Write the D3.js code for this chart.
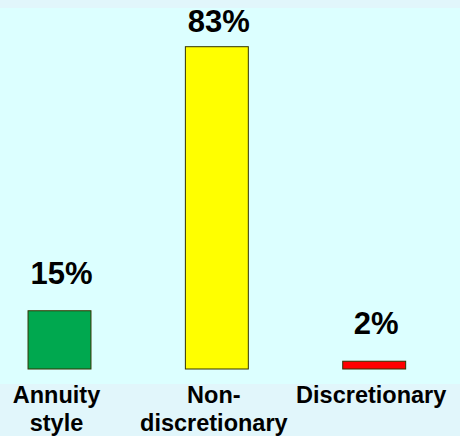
<!DOCTYPE html>
<html><head><meta charset="utf-8">
<script src="https://cdn.jsdelivr.net/npm/d3@7/dist/d3.min.js"></script>
<style>html,body{margin:0;padding:0;background:#dcffff;}svg{display:block;}</style>
</head><body><div id="chart"></div>
<script>
const categories = ["Annuity style", "Non-discretionary", "Discretionary"];
const labelLines = [["Annuity", "style"], ["Non-", "discretionary"], ["Discretionary"]];
const values = [15, 83, 2];
const valueLabels = ["15%", "83%", "2%"];
const colors = ["#00a84f", "#ffff00", "#ff0000"];

const W = 460, H = 436;
const svg = d3.select("#chart").append("svg").attr("width", W).attr("height", H);

// backgrounds
svg.append("rect").attr("x", 0).attr("y", 0).attr("width", W).attr("height", H).attr("fill", "#dcffff");
svg.append("rect").attr("x", 0).attr("y", 0).attr("width", W).attr("height", 8).attr("fill", "#e1f6fb");
svg.append("rect").attr("x", 0).attr("y", 384).attr("width", W).attr("height", H - 384).attr("fill", "#e1f6fb");

const x = d3.scaleBand().domain(categories).range([12.3, 421.4]).paddingInner(0.6).paddingOuter(0.1);
const y = d3.scaleLinear().domain([0, 83]).range([369, 46.7]);

svg.selectAll("rect.bar").data(values).join("rect").attr("class", "bar")
  .attr("x", (d, i) => x(categories[i]))
  .attr("y", d => y(d))
  .attr("width", x.bandwidth())
  .attr("height", d => y(0) - y(d))
  .attr("fill", (d, i) => colors[i])
  .attr("stroke", "#333300").attr("stroke-width", 1);

svg.selectAll("text.val").data(values).join("text").attr("class", "val")
  .attr("x", (d, i) => x(categories[i]) + x.bandwidth() / 2 + 2)
  .attr("y", d => Math.max(y(d) - 27, 32))
  .attr("text-anchor", "middle")
  .attr("font-family", "Liberation Sans, Arial, sans-serif")
  .attr("font-weight", "bold").attr("font-size", 31).attr("fill", "#000")
  .text((d, i) => valueLabels[i]);

const lab = svg.selectAll("text.cat").data(categories).join("text").attr("class", "cat")
  .attr("x", (d) => x(d) + x.bandwidth() / 2 - 3)
  .attr("y", 403)
  .attr("text-anchor", "middle")
  .attr("font-family", "Liberation Sans, Arial, sans-serif")
  .attr("font-weight", "bold").attr("font-size", 23.5).attr("fill", "#000");
lab.each(function(d, i) {
  const t = d3.select(this);
  labelLines[i].forEach((ln, k) => {
    t.append("tspan").attr("x", t.attr("x")).attr("dy", k === 0 ? 0 : 28).text(ln);
  });
});
</script></body></html>
